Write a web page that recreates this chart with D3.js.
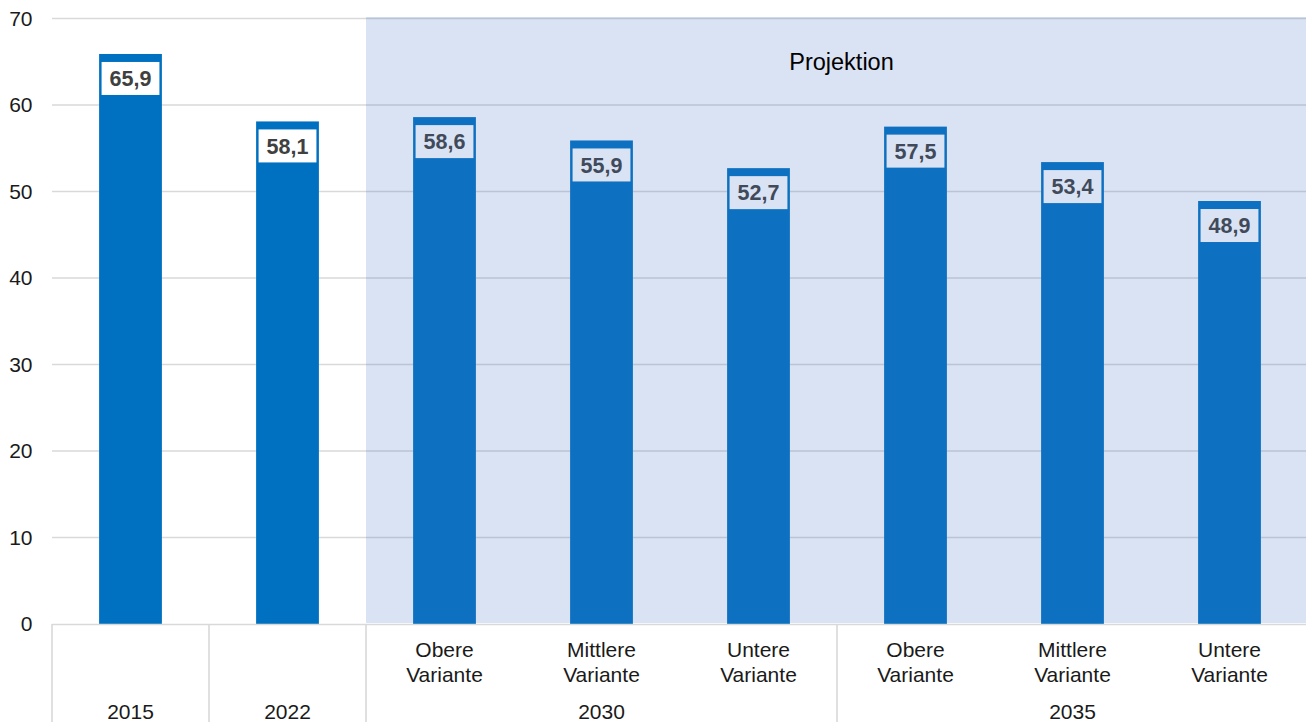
<!DOCTYPE html>
<html lang="de">
<head>
<meta charset="utf-8">
<script src="https://cdn.jsdelivr.net/npm/d3@7"></script>
<style>
  html, body { margin: 0; padding: 0; background: #ffffff; }
  svg { display: block; font-family: "Liberation Sans", Arial, sans-serif; }
</style>
</head>
<body>
<svg id="chart" width="1306" height="722"></svg>
<script>
// Categories (sub-labels), their groups and values
const categories = ["2015", "2022", "Obere Variante", "Mittlere Variante", "Untere Variante",
                    "Obere Variante", "Mittlere Variante", "Untere Variante"];
const showSubLabel = [false, false, true, true, true, true, true, true];
const groupLabels = ["2015", "2022", "2030", "2035"];
const groupSizes = [1, 1, 3, 3];
const values = [65.9, 58.1, 58.6, 55.9, 52.7, 57.5, 53.4, 48.9];
const yTicks = [0, 10, 20, 30, 40, 50, 60, 70];
const projectionStart = 2;
const projectionLabel = "Projektion";

const de = d3.formatLocale({ decimal: ",", thousands: ".", grouping: [3], currency: ["", " €"] });
const fmt = de.format(".1f");

const svg = d3.select("#chart");
const plotLeft = 52, plotRight = 1308, plotTop = 18.5, plotBottom = 624;

const x = d3.scaleBand()
  .domain(d3.range(categories.length))
  .range([plotLeft, plotRight])
  .paddingInner(0.6)
  .paddingOuter(0.3);
const step = x.step();
const bandStart = i => plotLeft + i * step;

const y = d3.scaleLinear().domain([0, 70]).range([plotBottom, plotTop]);

// Horizontal gridlines
svg.append("g").selectAll("line")
  .data(yTicks.filter(t => t > 0))
  .join("line")
  .attr("x1", plotLeft).attr("x2", plotRight)
  .attr("y1", d => y(d)).attr("y2", d => y(d))
  .attr("stroke", "#d9d9d9").attr("stroke-width", 1.6);

// Y tick labels
svg.append("g").selectAll("text")
  .data(yTicks)
  .join("text")
  .attr("x", 32.5).attr("y", d => y(d))
  .attr("dy", "0.35em")
  .attr("text-anchor", "end")
  .attr("font-size", 21)
  .attr("fill", "#1a1a1a")
  .text(d => d);

// Bars
svg.append("g").selectAll("rect")
  .data(values)
  .join("rect")
  .attr("x", (d, i) => x(i))
  .attr("width", x.bandwidth())
  .attr("y", d => y(d))
  .attr("height", d => y(0) - y(d))
  .attr("fill", "#0070c0");

// Value labels in white boxes
const lbl = svg.append("g").selectAll("g")
  .data(values)
  .join("g")
  .attr("transform", (d, i) => `translate(${x(i) + x.bandwidth() / 2},${y(d) + 8})`);
lbl.append("text")
  .attr("y", 16.5)
  .attr("dy", "0.36em")
  .attr("text-anchor", "middle")
  .attr("font-size", 21.5)
  .attr("font-weight", "bold")
  .attr("fill", "#404040")
  .text(d => fmt(d));
lbl.insert("rect", "text")
  .each(function () {
    const w = this.parentNode.querySelector("text").getComputedTextLength() + 16;
    d3.select(this).attr("x", -w / 2).attr("width", w);
  })
  .attr("y", 0).attr("height", 33)
  .attr("fill", "#ffffff");

// Projection shading over the projected categories
const projX = bandStart(projectionStart);
svg.append("rect")
  .attr("x", projX).attr("width", plotRight - projX)
  .attr("y", y(70) - 1.5).attr("height", y(0) - y(70) + 0.5)
  .attr("fill", "#4472c4").attr("fill-opacity", 0.2);

svg.append("text")
  .attr("x", 841.5).attr("y", 69.5)
  .attr("text-anchor", "middle")
  .attr("font-size", 23.5)
  .attr("fill", "#000000")
  .text(projectionLabel);

// Category axis: baseline and group separators
svg.append("line")
  .attr("x1", plotLeft).attr("x2", plotRight)
  .attr("y1", y(0) + 0.5).attr("y2", y(0) + 0.5)
  .attr("stroke", "#d9d9d9").attr("stroke-width", 1.6);

const groupStarts = groupSizes.map((s, i) => d3.sum(groupSizes.slice(0, i)));
const seps = groupStarts.concat([categories.length]);
svg.append("g").selectAll("line")
  .data(seps)
  .join("line")
  .attr("x1", d => bandStart(d)).attr("x2", d => bandStart(d))
  .attr("y1", y(0)).attr("y2", 722)
  .attr("stroke", "#d9d9d9").attr("stroke-width", 1.6);

// Sub-category labels (two lines)
const sub = svg.append("g").selectAll("text")
  .data(categories.map((c, i) => ({ c, i })).filter(d => showSubLabel[d.i]))
  .join("text")
  .attr("text-anchor", "middle")
  .attr("font-size", 21)
  .attr("fill", "#1a1a1a");
sub.each(function (d) {
  const words = d.c.split(" ");
  const t = d3.select(this);
  words.forEach((w, k) => {
    t.append("tspan")
      .attr("x", x(d.i) + x.bandwidth() / 2)
      .attr("y", 657 + k * 24.5)
      .text(w);
  });
});

// Group labels
svg.append("g").selectAll("text")
  .data(groupLabels)
  .join("text")
  .attr("x", (d, i) => bandStart(groupStarts[i]) + groupSizes[i] * step / 2)
  .attr("y", 719)
  .attr("text-anchor", "middle")
  .attr("font-size", 21)
  .attr("fill", "#1a1a1a")
  .text(d => d);
</script>
</body>
</html>
